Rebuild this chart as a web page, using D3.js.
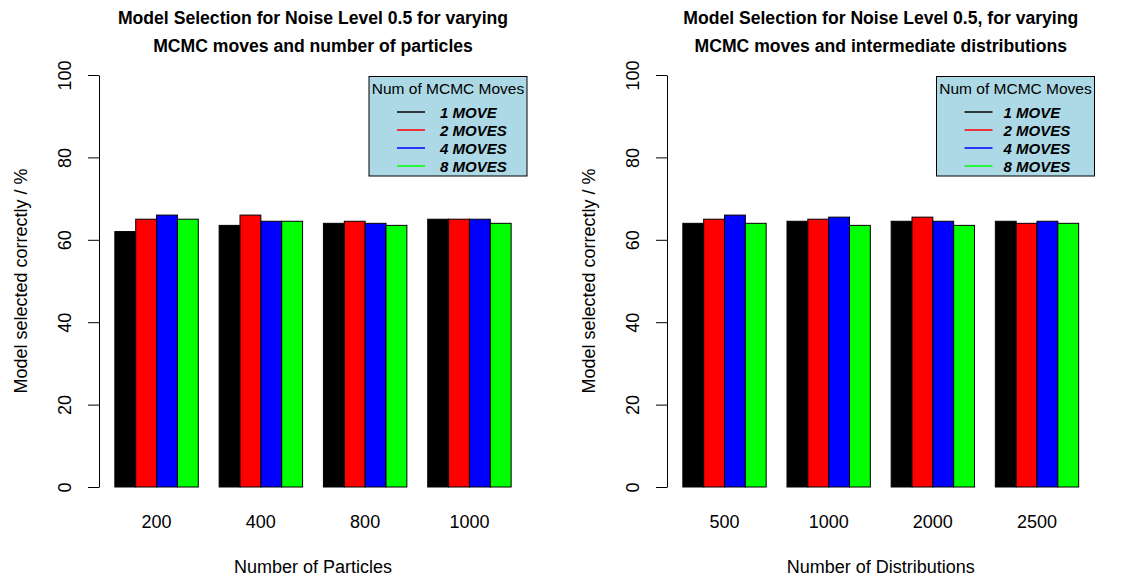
<!DOCTYPE html>
<html>
<head>
<meta charset="utf-8">
<script src="https://cdn.jsdelivr.net/npm/d3@7"></script>
<style>
body { margin:0; background:white; }
svg { font-family:"Liberation Sans", Arial, sans-serif; }
</style>
</head>
<body>
<svg id="chart"></svg>
<script>

// categories
var particleLabels = ["200","400","800","1000"]
var distLabels = ["500","1000","2000","2500"]
var moveLabels = ["1 MOVE","2 MOVES","4 MOVES","8 MOVES"]
var moveColors = ["black","red","blue","#00FF00"]
var yTicks = [0,20,40,60,80,100]

// % model selected correctly, one array per number of MCMC moves
var particles1Move = [62,63.5,64,65]
var particles2Moves = [65,66,64.5,65]
var particles4Moves = [66,64.5,64,65]
var particles8Moves = [65,64.5,63.5,64]

var dists1Move = [64,64.5,64.5,64.5]
var dists2Moves = [65,65,65.5,64]
var dists4Moves = [66,65.5,64.5,64.5]
var dists8Moves = [64,63.5,63.5,64]

var screen = {width:1131,height:579}

d3.select("#chart")
  .attr("width",screen.width)
  .attr("height",screen.height)

var drawPanel = function(opts)
{
    var svg = d3.select("#chart")
    var series = opts.series
    var nGroups = opts.labels.length
    var nSeries = series.length

    // R barplot layout: bar i of group g starts at 1 + g*(nSeries+1) + i
    var last = nGroups*(nSeries+1)
    var ext = (last-1)*0.04
    var xScale = d3.scaleLinear()
                   .domain([1-ext,last+ext])
                   .range([opts.left,opts.right])
    var yScale = d3.scaleLinear()
                   .domain([0,100])
                   .range([487,75])

    var bars = []
    opts.labels.forEach(function(lab,g){
        series.forEach(function(vals,i){
            bars.push({x:1+g*(nSeries+1)+i, v:vals[g], c:moveColors[i]})
        })
    })

    svg.append("g")
       .selectAll("rect")
       .data(bars)
       .enter()
       .append("rect")
       .attr("x",function(d){return xScale(d.x)})
       .attr("width",function(d){return xScale(d.x+1)-xScale(d.x)})
       .attr("y",function(d){return yScale(d.v)})
       .attr("height",function(d){return yScale(0)-yScale(d.v)})
       .attr("fill",function(d){return d.c})
       .attr("stroke","black")
       .attr("stroke-width",1)

    // y axis
    var yAxis = d3.axisLeft(yScale)
                  .tickValues(yTicks)
                  .tickSize(11)
                  .tickSizeOuter(0)
    var ax = svg.append("g")
                .attr("transform","translate("+xScale.range()[0]+",0)")
                .call(yAxis)
    ax.select(".domain").attr("stroke","black")
    ax.selectAll(".tick line").attr("stroke","black")
    ax.selectAll(".tick text")
      .attr("transform","rotate(-90)")
      .attr("x",0)
      .attr("y",-34)
      .attr("dy",null)
      .attr("dominant-baseline","central")
      .attr("text-anchor","middle")
      .attr("font-size",18)
      .attr("font-family","Liberation Sans, Arial, sans-serif")
      .attr("fill","black")

    // group labels
    svg.append("g")
       .selectAll("text")
       .data(opts.labels)
       .enter()
       .append("text")
       .attr("x",function(d,g){return xScale(1+g*(nSeries+1)+nSeries/2)})
       .attr("y",528)
       .attr("text-anchor","middle")
       .attr("font-size",18)
       .text(function(d){return d})

    var cx = (opts.left+opts.right)/2

    svg.append("text")
       .attr("x",cx)
       .attr("y",573)
       .attr("text-anchor","middle")
       .attr("font-size",18)
       .text(opts.xlab)

    svg.append("text")
       .attr("transform","translate("+opts.ylabX+",281) rotate(-90)")
       .attr("text-anchor","middle")
       .attr("dominant-baseline","central")
       .attr("font-size",18)
       .text("Model selected correctly / %")

    svg.append("g")
       .selectAll("text")
       .data(opts.title)
       .enter()
       .append("text")
       .attr("x",cx)
       .attr("y",function(d,i){return 24+i*28})
       .attr("text-anchor","middle")
       .attr("font-size",17.6)
       .attr("font-weight","bold")
       .text(function(d){return d})

    // legend, top right of the plot region
    var lw = 158
    var lg = svg.append("g")
                .attr("transform","translate("+(opts.right-lw)+",76.5)")
    lg.append("rect")
      .attr("width",lw)
      .attr("height",99.5)
      .attr("fill","#ADD8E6")
      .attr("stroke","black")
    lg.append("text")
      .attr("x",lw/2)
      .attr("y",17.5)
      .attr("text-anchor","middle")
      .attr("font-size",15.5)
      .text("Num of MCMC Moves")
    var items = lg.selectAll(".item")
                  .data(moveLabels)
                  .enter()
                  .append("g")
                  .attr("class","item")
                  .attr("transform",function(d,i){return "translate(0,"+(35.5+i*18)+")"})
    items.append("line")
         .attr("x1",28)
         .attr("x2",56)
         .attr("stroke",function(d,i){return moveColors[i]})
         .attr("stroke-width",1.5)
    items.append("text")
         .attr("x",opts.textX)
         .attr("y",5.5)
         .attr("font-size",15)
         .attr("font-weight","bold")
         .attr("font-style","italic")
         .text(function(d){return d})
}

drawPanel({
    series:[particles1Move,particles2Moves,particles4Moves,particles8Moves],
    labels:particleLabels,
    left:99, right:527,
    ylabX:21,
    textX:71,
    xlab:"Number of Particles",
    title:["Model Selection for Noise Level 0.5 for varying","MCMC moves and number of particles"]
})

drawPanel({
    series:[dists1Move,dists2Moves,dists4Moves,dists8Moves],
    labels:distLabels,
    left:667, right:1094.5,
    ylabX:589,
    textX:67,
    xlab:"Number of Distributions",
    title:["Model Selection for Noise Level 0.5, for varying","MCMC moves and intermediate distributions"]
})

</script>
</body>
</html>
